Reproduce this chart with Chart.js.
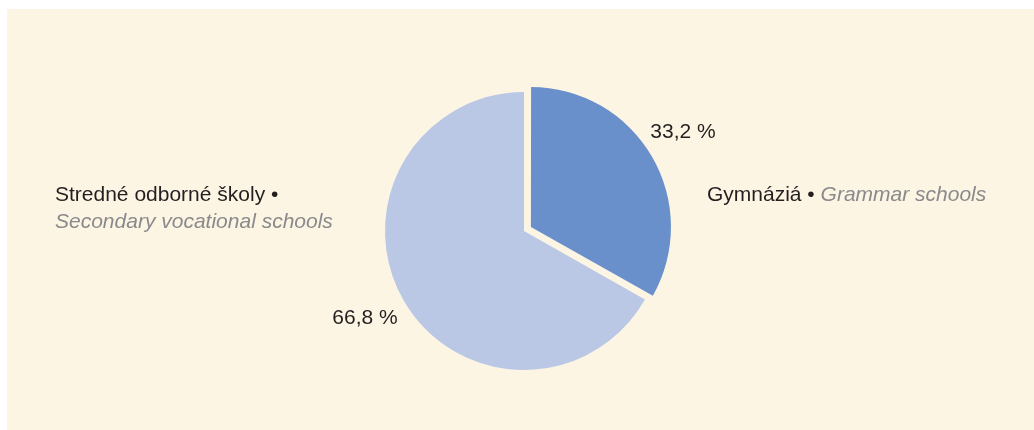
<!DOCTYPE html>
<html>
<head>
<meta charset="utf-8">
<script src="https://cdn.jsdelivr.net/npm/chart.js@4"></script>
<style>
  body { margin: 0; background: #ffffff; }
  #panel { position: absolute; left: 7px; top: 9px; width: 1027px; height: 421px; background: #fdf5e4; }
</style>
</head>
<body>
<div id="panel"><canvas id="graf" width="1027" height="421"></canvas></div>
<script>
// Údaje
const kategorie = ["Gymnáziá", "Stredné odborné školy"];
const kategorieEn = ["Grammar schools", "Secondary vocational schools"];
const hodnoty = [33.2, 66.8];
const farby = ["#6990cb", "#bac8e6"];

const FONT = "Liberation Sans, Arial, sans-serif";

function formatPct(v) {
    return v.toFixed(1).replace(".", ",") + " %";
}

// popisky pri výsekoch a názvy kategórií
const popisky = {
    id: "popisky",
    afterDraw(chart) {
        const ctx = chart.ctx;
        const meta = chart.getDatasetMeta(0);
        const stred = meta.data[1];
        ctx.save();
        ctx.fillStyle = "#231f20";
        ctx.font = "21px " + FONT;
        ctx.textAlign = "center";
        ctx.textBaseline = "alphabetic";
        meta.data.forEach((arc, i) => {
            const mid = (arc.startAngle + arc.endAngle) / 2;
            const r = arc.outerRadius + 45;
            ctx.fillText(formatPct(hodnoty[i]), stred.x + Math.cos(mid) * r, stred.y + Math.sin(mid) * r);
        });

        ctx.textAlign = "left";
        // Gymnáziá • Grammar schools
        let x = stred.x + 183;
        const y1 = 192;
        const t1 = kategorie[0] + " • ";
        ctx.font = "21px " + FONT;
        ctx.fillStyle = "#231f20";
        ctx.fillText(t1, x, y1);
        x += ctx.measureText(t1).width;
        ctx.font = "italic 21px " + FONT;
        ctx.fillStyle = "#8a8a8c";
        ctx.fillText(kategorieEn[0], x, y1);

        // Stredné odborné školy • / Secondary vocational schools
        ctx.font = "21px " + FONT;
        ctx.fillStyle = "#231f20";
        ctx.fillText(kategorie[1] + " •", 48, 192);
        ctx.font = "italic 21px " + FONT;
        ctx.fillStyle = "#8a8a8c";
        ctx.fillText(kategorieEn[1], 48, 219);
        ctx.restore();
    }
};

new Chart(document.getElementById("graf"), {
    type: "pie",
    data: {
        labels: kategorie,
        datasets: [{
            data: hodnoty,
            backgroundColor: farby,
            borderWidth: 0,
            offset: [32, 0]
        }]
    },
    options: {
        responsive: false,
        animation: false,
        radius: 139,
        layout: { padding: { left: 7, right: 0, top: 23, bottom: 0 } },
        plugins: {
            legend: { display: false },
            tooltip: { enabled: false }
        }
    },
    plugins: [popisky]
});
</script>
</body>
</html>
